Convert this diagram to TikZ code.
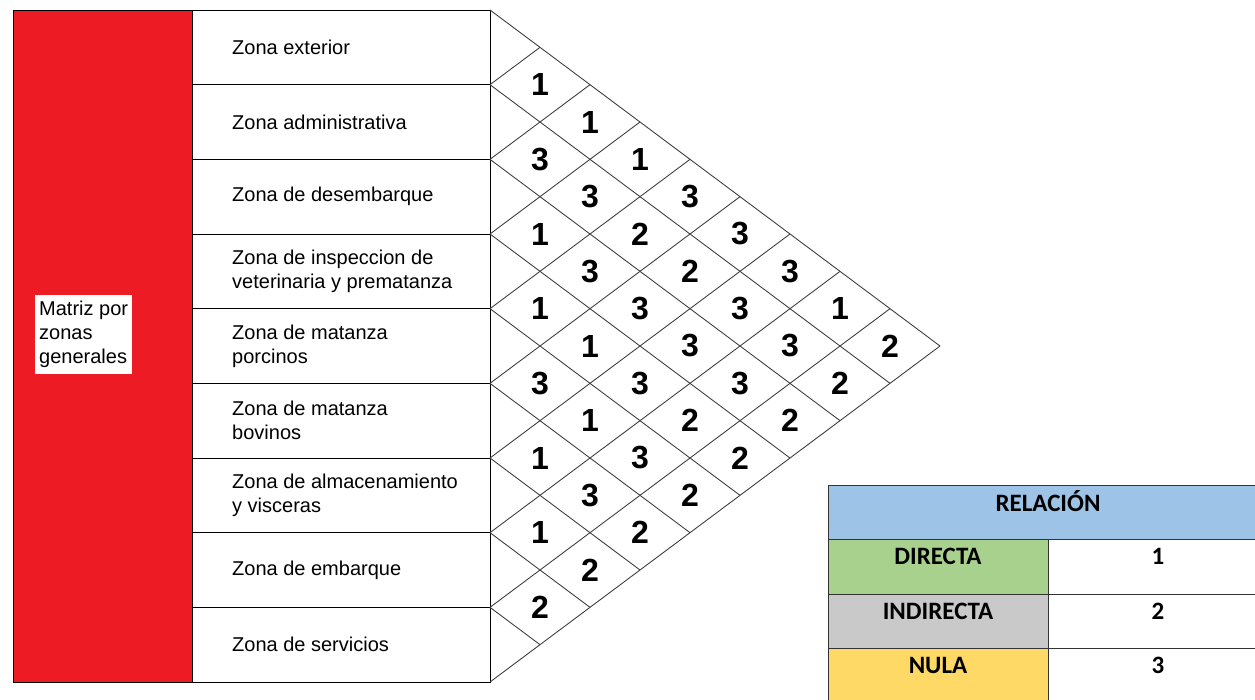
\documentclass[tikz,border=0pt]{standalone}
\usepackage{fontspec}
\setmainfont{Liberation Sans}
\newfontfamily\calibri{Carlito}
\definecolor{matred}{HTML}{ED1C24}
\definecolor{keyblue}{HTML}{9DC3E6}
\definecolor{keygreen}{HTML}{A9D18E}
\definecolor{keygrey}{HTML}{C9C9C9}
\definecolor{keyyellow}{HTML}{FFD966}

\begin{document}
\begin{tikzpicture}[
  x=1pt, y=-1pt,
  zonebox/.style={draw, line width=1pt},
  zonetext/.style={anchor=west, align=left, inner sep=0pt,
    font=\fontsize{20}{24}\selectfont},
  diagline/.style={draw=black!75, line width=0.9pt},
  cellnum/.style={font=\fontsize{32}{32}\selectfont\bfseries},
  keycell/.style={draw=black!80, line width=1pt},
  keytext/.style={anchor=base, font=\calibri\bfseries\fontsize{25}{30}\selectfont},
]
  \useasboundingbox (0,0) rectangle (1255,699);
  \clip (0,0) rectangle (1255,699);

  \filldraw[matred, draw=black, line width=1pt] (13,10) rectangle (192,682);
  \node[fill=white, anchor=north west, align=left, inner xsep=4pt, inner ysep=6pt,
    font=\fontsize{20}{24}\selectfont] (matriz) at (35,295)
    {Matriz por\\zonas\\generales};

  \foreach \name [count=\i from 0] in {Zona exterior, Zona administrativa,
      Zona de desembarque, {Zona de inspeccion de\\veterinaria y prematanza},
      {Zona de matanza\\porcinos}, {Zona de matanza\\bovinos},
      {Zona de almacenamiento\\y visceras}, Zona de embarque, Zona de servicios} {
    \draw[zonebox] (192,10+\i*74.667) rectangle ++(298,74.667);
    \node[zonetext] (z\i) at (232,47.333+\i*74.667) {\name};
  }

  \foreach \k in {0,...,9} {
    \draw[diagline] (490,10+\k*74.667) -- ++({(9-\k)*50},{(9-\k)*37.333});
    \draw[diagline] (490,10+\k*74.667) -- ++({\k*50},{-\k*37.333});
  }

  \foreach \d/\vals in {1/{1,3,1,1,3,1,1,2}, 2/{1,3,3,1,1,3,2},
      3/{1,2,3,3,3,2}, 4/{3,2,3,2,2}, 5/{3,3,3,2}, 6/{3,3,2}, 7/{1,2}, 8/{2}} {
    \foreach \v [count=\i from 0] in \vals
      \node[cellnum] (n\d-\i) at ({490+\d*50},{10+(2*\i+\d+1)*37.333}) {\v};
  }

  \draw[keycell, fill=keyblue] (828,485) rectangle (1268,539);
  \draw[keycell, fill=keygreen] (828,539) rectangle (1048,594);
  \draw[keycell, fill=keygrey] (828,594) rectangle (1048,648);
  \draw[keycell, fill=keyyellow] (828,648) rectangle (1048,703);
  \draw[keycell] (1048,539) rectangle (1268,594);
  \draw[keycell] (1048,594) rectangle (1268,648);
  \draw[keycell] (1048,648) rectangle (1268,703);

  \node[keytext] (rel) at (1048,511) {RELACIÓN};
  \node[keytext] (k1) at (938,564) {DIRECTA};
  \node[keytext] (k2) at (938,619) {INDIRECTA};
  \node[keytext] (k3) at (938,673) {NULA};
  \node[keytext] (v1) at (1158,564) {1};
  \node[keytext] (v2) at (1158,619) {2};
  \node[keytext] (v3) at (1158,673) {3};
\end{tikzpicture}
\end{document}
